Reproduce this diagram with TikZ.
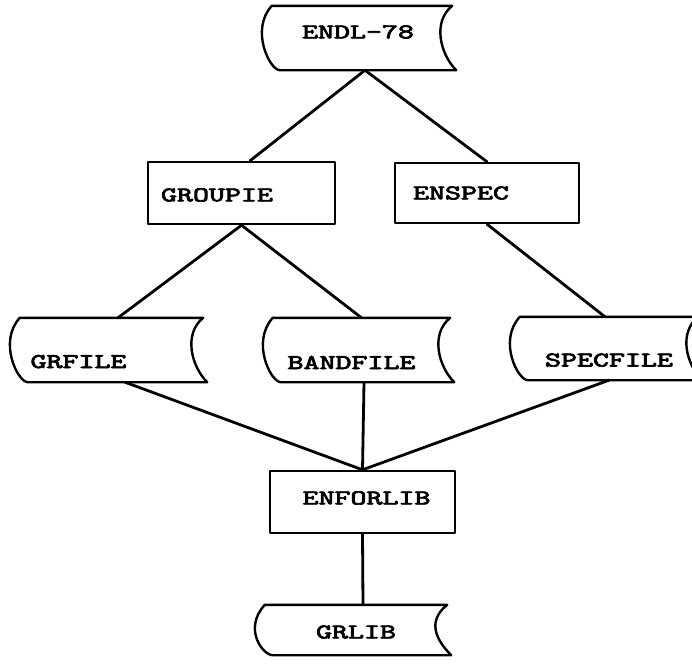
\documentclass[tikz,border=0pt]{standalone}
\usepackage{graphicx}
\usepackage{fontspec}
\newfontfamily\twfont[FakeBold=3]{lmmono10-regular.otf}
\tikzset{
  outline/.style={line width=2.4pt, line join=round, line cap=round},
  lblfont/.style={font=\twfont\fontsize{21pt}{21pt}\selectfont},
  boxnode/.style={draw, outline, inner sep=0pt, lblfont},
  tapenode/.style={inner sep=0pt, lblfont},
  link/.style={line width=2.8pt, line cap=round},
}
\newcommand\lbl[3]{\raisebox{#2}[0pt][0pt]{\makebox[0pt]{\kern#1\relax\scalebox{1.45}[1]{#3}\kern-#1\relax}}}
\newcommand\tapeoutline[1]{%
  \draw[outline] (#1.north west) -- (#1.north east)
    .. controls +(-20,16) and +(-16,-16) .. ([xshift=4pt]#1.south east)
    -- ([xshift=8pt]#1.south west)
    .. controls +(-10,0) and +(-22,24) .. (#1.north west) -- cycle;}
\begin{document}
\begin{tikzpicture}[x=1pt,y=-1pt]
\useasboundingbox (0,0) rectangle (692,667);
\fill[white] (0,0) rectangle (692,667);

\node[tapenode, minimum width=180pt, minimum height=64pt] (endl) at (362,38) {\lbl{-4pt}{-0.4pt}{ENDL-78}};
\node[boxnode, minimum width=187pt, minimum height=62pt] (groupie) at (241.5,193) {\lbl{-24.5pt}{-8.4pt}{GROUPIE}};
\node[boxnode, minimum width=184pt, minimum height=60pt] (enspec) at (487,193) {\lbl{-26pt}{-6.4pt}{ENSPEC}};
\node[tapenode, minimum width=183pt, minimum height=64pt] (grfile) at (111.5,350) {\lbl{-33pt}{-18pt}{GRFILE}};
\node[tapenode, minimum width=177pt, minimum height=64pt] (bandfile) at (361.5,350) {\lbl{-10pt}{-19pt}{BANDFILE}};
\node[tapenode, minimum width=178pt, minimum height=63pt] (specfile) at (609,348.5) {\lbl{0pt}{-18pt}{SPECFILE}};
\node[boxnode, minimum width=185pt, minimum height=62pt] (enforlib) at (362.5,502) {\lbl{4pt}{-2.4pt}{ENFORLIB}};
\node[tapenode, minimum width=182pt, minimum height=50pt] (grlib) at (356,630) {\lbl{0pt}{-8.4pt}{GRLIB}};

\tapeoutline{endl}
\tapeoutline{grfile}
\tapeoutline{bandfile}
\tapeoutline{specfile}
\tapeoutline{grlib}

\draw[link] ([xshift=3pt]endl.south) -- ([xshift=8.5pt]groupie.north);
\draw[link] ([xshift=3pt]endl.south) -- (enspec.north);
\draw[link] (groupie.south) -- ([xshift=6.5pt]grfile.north);
\draw[link] (groupie.south) -- (bandfile.north);
\draw[link] (enspec.south) -- ([xshift=-4pt]specfile.north);
\draw[link] ([xshift=13.5pt]grfile.south) -- (enforlib.north);
\draw[link] ([xshift=2.5pt]bandfile.south) -- (enforlib.north);
\draw[link] (specfile.south) -- (enforlib.north);
\draw[link] (enforlib.south) -- ([xshift=7pt]grlib.north);
\end{tikzpicture}
\end{document}
